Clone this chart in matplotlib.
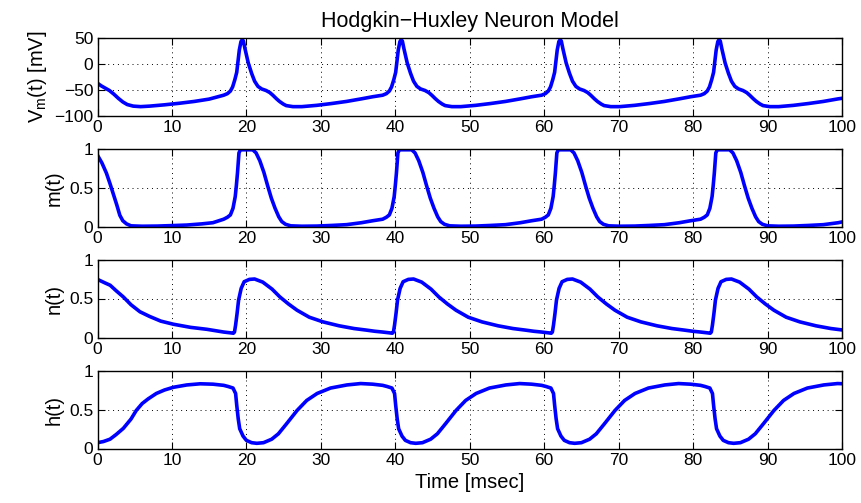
import matplotlib
matplotlib.use("Agg")
import matplotlib.pyplot as plt

plt.rcParams['font.family'] = ['Liberation Sans', 'DejaVu Sans']
plt.rcParams['mathtext.fontset'] = 'custom'
plt.rcParams['mathtext.rm'] = 'Liberation Sans'
plt.rcParams['mathtext.it'] = 'Liberation Sans'

# membrane potential V_m(t) [mV]
t_vm = [0, 0.5, 1.0, 1.6, 2.2, 2.8, 3.4, 4.0, 4.8, 5.8, 7, 9, 11, 13, 15,
        16.95, 17.45, 17.85, 18.15, 18.45, 18.70, 19.05, 19.27, 19.45, 19.60, 19.80, 20.25, 20.70, 21.10, 21.55,
        22.05, 22.65, 23.15, 23.55, 24.05, 24.45, 24.95, 25.35, 26.25, 27.45, 29.45, 31.45, 33.45, 35.45, 36.95,
        38.30, 38.80, 39.20, 39.50, 39.80, 40.05, 40.40, 40.62, 40.80, 40.95, 41.15, 41.60, 42.05, 42.45, 42.90,
        43.40, 44.00, 44.50, 44.90, 45.40, 45.80, 46.30, 46.70, 47.60, 48.80, 50.80, 52.80, 54.80, 56.80, 58.30,
        59.65, 60.15, 60.55, 60.85, 61.15, 61.40, 61.75, 61.97, 62.15, 62.30, 62.50, 62.95, 63.40, 63.80, 64.25,
        64.75, 65.35, 65.85, 66.25, 66.75, 67.15, 67.65, 68.05, 68.95, 70.15, 72.15, 74.15, 76.15, 78.15, 79.65,
        81.00, 81.50, 81.90, 82.20, 82.50, 82.75, 83.10, 83.32, 83.50, 83.65, 83.85, 84.30, 84.75, 85.15, 85.60,
        86.10, 86.70, 87.20, 87.60, 88.10, 88.50, 89.00, 89.40, 90.30, 91.50, 93.50, 95.50, 97.50, 99.50, 100]
vm = [-37, -42, -46, -51, -58, -66, -73, -78, -81, -82, -81, -78.5, -75.5, -72, -67.5,
      -60, -57, -52, -44, -30, -16, 27, 43, 47, 44, 30, 2, -18, -33, -43,
      -48, -51, -55, -60, -67, -72, -77, -80, -82, -82, -79.5, -76, -72, -67, -63,
      -60, -57, -52, -44, -30, -16, 27, 43, 47, 44, 30, 2, -18, -33, -43,
      -48, -51, -55, -60, -67, -72, -77, -80, -82, -82, -79.5, -76, -72, -67, -63,
      -60, -57, -52, -44, -30, -16, 27, 43, 47, 44, 30, 2, -18, -33, -43,
      -48, -51, -55, -60, -67, -72, -77, -80, -82, -82, -79.5, -76, -72, -67, -63,
      -60, -57, -52, -44, -30, -16, 27, 43, 47, 44, 30, 2, -18, -33, -43,
      -48, -51, -55, -60, -67, -72, -77, -80, -82, -82, -79.5, -76, -72, -67, -66]

# sodium activation m(t)
t_m = [0, 0.6, 1.2, 1.7, 2.1, 2.6, 3.0, 3.4, 3.9, 4.5, 6, 8, 10, 12, 14, 15.5,
       16.95, 17.45, 17.85, 18.20, 18.50, 18.65, 18.80, 19.00, 19.20, 20.85, 21.30, 21.80, 22.35,
       22.85, 23.35, 23.85, 24.35, 24.75, 25.25, 25.95, 27.45, 29.45, 31.45, 33.45, 35.45, 36.95,
       38.30, 38.80, 39.20, 39.55, 39.85, 40.00, 40.15, 40.35, 40.55, 42.20, 42.65, 43.15, 43.70,
       44.20, 44.70, 45.20, 45.70, 46.10, 46.60, 47.30, 48.80, 50.80, 52.80, 54.80, 56.80, 58.30,
       59.65, 60.15, 60.55, 60.90, 61.20, 61.35, 61.50, 61.70, 61.90, 63.55, 64.00, 64.50, 65.05,
       65.55, 66.05, 66.55, 67.05, 67.45, 67.95, 68.65, 70.15, 72.15, 74.15, 76.15, 78.15, 79.65,
       81.00, 81.50, 81.90, 82.25, 82.55, 82.70, 82.85, 83.05, 83.25, 84.90, 85.35, 85.85, 86.40,
       86.90, 87.40, 87.90, 88.40, 88.80, 89.30, 90.00, 91.50, 93.50, 95.50, 97.50, 99.50, 100]
m = [0.92, 0.82, 0.69, 0.55, 0.43, 0.28, 0.15, 0.08, 0.04, 0.015, 0.01, 0.012, 0.018, 0.025, 0.04, 0.055,
     0.10, 0.125, 0.155, 0.24, 0.39, 0.53, 0.69, 0.95, 0.99, 0.99, 0.95, 0.85, 0.70,
     0.53, 0.37, 0.24, 0.13, 0.07, 0.035, 0.015, 0.01, 0.012, 0.02, 0.03, 0.055, 0.08,
     0.10, 0.125, 0.155, 0.24, 0.39, 0.53, 0.69, 0.95, 0.99, 0.99, 0.95, 0.85, 0.70,
     0.53, 0.37, 0.24, 0.13, 0.07, 0.035, 0.015, 0.01, 0.012, 0.02, 0.03, 0.055, 0.08,
     0.10, 0.125, 0.155, 0.24, 0.39, 0.53, 0.69, 0.95, 0.99, 0.99, 0.95, 0.85, 0.70,
     0.53, 0.37, 0.24, 0.13, 0.07, 0.035, 0.015, 0.01, 0.012, 0.02, 0.03, 0.055, 0.08,
     0.10, 0.125, 0.155, 0.24, 0.39, 0.53, 0.69, 0.95, 0.99, 0.99, 0.95, 0.85, 0.70,
     0.53, 0.37, 0.24, 0.13, 0.07, 0.035, 0.015, 0.01, 0.012, 0.02, 0.03, 0.055, 0.065]

# potassium activation n(t)
t_n = [0, 1.0, 1.7, 2.5, 3.47, 4.5, 5.7, 7.0, 8.5, 10.2, 12.5, 14.7,
       16.95, 17.85, 18.25, 18.40, 18.55, 18.75, 18.95, 19.30, 19.70, 20.40, 21.10,
       22.20, 23.45, 24.50, 25.65, 26.80, 28.45, 30.30, 32.45, 34.45, 36.10, 37.25,
       38.30, 39.20, 39.60, 39.75, 39.90, 40.10, 40.30, 40.65, 41.05, 41.75, 42.45,
       43.55, 44.80, 45.85, 47.00, 48.15, 49.80, 51.65, 53.80, 55.80, 57.45, 58.60,
       59.65, 60.55, 60.95, 61.10, 61.25, 61.45, 61.65, 62.00, 62.40, 63.10, 63.80,
       64.90, 66.15, 67.20, 68.35, 69.50, 71.15, 73.00, 75.15, 77.15, 78.80, 79.95,
       81.00, 81.90, 82.30, 82.45, 82.60, 82.80, 83.00, 83.35, 83.75, 84.45, 85.15,
       86.25, 87.50, 88.55, 89.70, 90.85, 92.50, 94.35, 96.50, 98.50, 100]
n = [0.745, 0.70, 0.67, 0.60, 0.52, 0.42, 0.33, 0.27, 0.21, 0.17, 0.13, 0.105,
     0.07, 0.06, 0.055, 0.07, 0.16, 0.31, 0.48, 0.63, 0.715, 0.745, 0.75,
     0.71, 0.62, 0.52, 0.43, 0.35, 0.26, 0.20, 0.15, 0.115, 0.095, 0.08,
     0.07, 0.06, 0.055, 0.07, 0.16, 0.31, 0.48, 0.63, 0.715, 0.745, 0.75,
     0.71, 0.62, 0.52, 0.43, 0.35, 0.26, 0.20, 0.15, 0.115, 0.095, 0.08,
     0.07, 0.06, 0.055, 0.07, 0.16, 0.31, 0.48, 0.63, 0.715, 0.745, 0.75,
     0.71, 0.62, 0.52, 0.43, 0.35, 0.26, 0.20, 0.15, 0.115, 0.095, 0.08,
     0.07, 0.06, 0.055, 0.07, 0.16, 0.31, 0.48, 0.63, 0.715, 0.745, 0.75,
     0.71, 0.62, 0.52, 0.43, 0.35, 0.26, 0.20, 0.15, 0.115, 0.097]

# sodium inactivation h(t)
t_h = [0, 0.8, 1.68, 2.5, 3.47, 4.5, 5.2, 6.0, 6.8, 7.9, 9.0, 10.2, 12, 13.8, 15.5,
       16.95, 17.55, 18.20, 18.55, 18.70, 18.90, 19.10, 19.55, 20.00, 20.70, 21.40,
       22.30, 23.40, 24.30, 25.40, 26.80, 28.10, 29.50, 31.30, 33.50, 35.35, 36.95,
       38.30, 38.90, 39.55, 39.90, 40.05, 40.25, 40.45, 40.90, 41.35, 42.05, 42.75,
       43.65, 44.75, 45.65, 46.75, 48.15, 49.45, 50.85, 52.65, 54.85, 56.70, 58.30,
       59.65, 60.25, 60.90, 61.25, 61.40, 61.60, 61.80, 62.25, 62.70, 63.40, 64.10,
       65.00, 66.10, 67.00, 68.10, 69.50, 70.80, 72.20, 74.00, 76.20, 78.05, 79.65,
       81.00, 81.60, 82.25, 82.60, 82.75, 82.95, 83.15, 83.60, 84.05, 84.75, 85.45,
       86.35, 87.45, 88.35, 89.45, 90.85, 92.15, 93.55, 95.35, 97.55, 99.40, 100]
h = [0.075, 0.09, 0.12, 0.18, 0.26, 0.38, 0.49, 0.58, 0.64, 0.71, 0.755, 0.79, 0.82, 0.835, 0.83,
     0.815, 0.80, 0.78, 0.71, 0.56, 0.385, 0.255, 0.16, 0.105, 0.075, 0.067,
     0.075, 0.12, 0.19, 0.32, 0.49, 0.62, 0.71, 0.78, 0.82, 0.838, 0.83,
     0.815, 0.80, 0.78, 0.71, 0.56, 0.385, 0.255, 0.16, 0.105, 0.075, 0.067,
     0.075, 0.12, 0.19, 0.32, 0.49, 0.62, 0.71, 0.78, 0.82, 0.838, 0.83,
     0.815, 0.80, 0.78, 0.71, 0.56, 0.385, 0.255, 0.16, 0.105, 0.075, 0.067,
     0.075, 0.12, 0.19, 0.32, 0.49, 0.62, 0.71, 0.78, 0.82, 0.838, 0.83,
     0.815, 0.80, 0.78, 0.71, 0.56, 0.385, 0.255, 0.16, 0.105, 0.075, 0.067,
     0.075, 0.12, 0.19, 0.32, 0.49, 0.62, 0.71, 0.78, 0.82, 0.838, 0.836]

xticks = list(range(0, 101, 10))
ylabels = [r'V$_{\rm m}$(t) [mV]', 'm(t)', 'n(t)', 'h(t)']
yticks = [[-100, -50, 0, 50], [0, 0.5, 1], [0, 0.5, 1], [0, 0.5, 1]]
yticklabels = [['\u2212100', '\u221250', '0', '50'], ['0', '0.5', '1'], ['0', '0.5', '1'], ['0', '0.5', '1']]
ylims = [(-100, 50), (0, 1), (0, 1), (0, 1)]
series = [(t_vm, vm), (t_m, m), (t_n, n), (t_h, h)]

W, H = 861, 503
fig = plt.figure(figsize=(W / 100, H / 100), dpi=100)

left, right = 97.5, 842
tops = [38, 149, 259.5, 371]
bottoms = [116, 227, 337.5, 448.5]

for i in range(4):
	ax = fig.add_axes([left / W, 1 - bottoms[i] / H, (right - left) / W, (bottoms[i] - tops[i]) / H])
	t, y = series[i]
	ax.plot(t, y, color=(0, 0, 1), lw=2.6, solid_joinstyle='round', solid_capstyle='round')
	ax.set_xlim(0, 100)
	ax.set_ylim(*ylims[i])
	ax.set_xticks(xticks)
	ax.set_yticks(yticks[i])
	ax.set_yticklabels(yticklabels[i])
	ax.tick_params(direction='in', top=True, right=True, length=5, width=0.8, labelsize=12.5, pad=3)
	ax.grid(True, linestyle=(0, (1, 4)), color='k', lw=0.7)
	for s in ax.spines.values():
		s.set_linewidth(1.0)
	ax.set_ylabel(ylabels[i], fontsize=14.5, labelpad=4)
	if i == 0:
		ax.set_title('Hodgkin\u2212Huxley Neuron Model', fontsize=15.5, pad=8)
	if i == 3:
		ax.set_xlabel('Time [msec]', fontsize=14.5, labelpad=4)

fig.savefig('out.png', dpi=100)
